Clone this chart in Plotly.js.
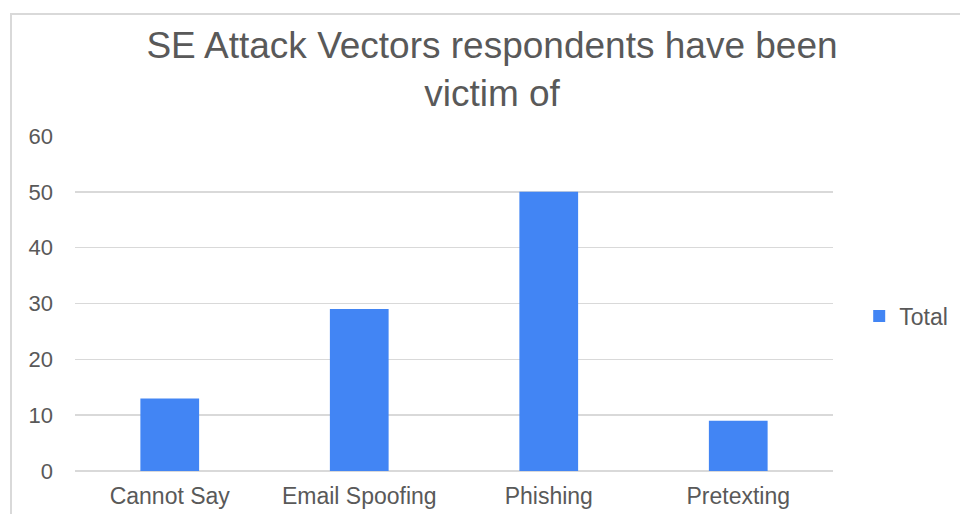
<!DOCTYPE html>
<html>
<head>
<meta charset="utf-8">
<script src="https://cdn.plot.ly/plotly-3.0.1.min.js"></script>
<style>
  html, body { margin: 0; padding: 0; background: #ffffff; overflow: hidden; }
  #chart { width: 960px; height: 514px; position: absolute; left: 0; top: 0; }
  #frame { position: absolute; left: 10px; top: 13px; width: 1000px; height: 600px;
           border: 2px solid #d9d9d9; pointer-events: none; box-sizing: border-box; }
</style>
</head>
<body>
<div id="chart"></div>
<div id="frame"></div>
<script>
// Attack vectors and how many respondents reported each one
const categories = ["Cannot Say", "Email Spoofing", "Phishing", "Pretexting"];
const totals = [13, 29, 50, 9];
const yTicks = [0, 10, 20, 30, 40, 50, 60];

const textGray = "#595959";
const gridGray = "#d9d9d9";

const trace = {
  type: "bar",
  name: "Total",
  x: categories,
  y: totals,
  marker: { color: "#4285f4" },
  hoverinfo: "x+y"
};

const layout = {
  width: 960,
  height: 514,
  paper_bgcolor: "#ffffff",
  plot_bgcolor: "#ffffff",
  font: { family: "Liberation Sans, Arial, sans-serif", color: textGray },
  margin: { l: 75, r: 127, t: 136, b: 43 },
  title: {
    text: "SE Attack Vectors respondents have been<br>victim of",
    font: { size: 37, color: textGray },
    x: 0.5125, xanchor: "center", xref: "container",
    y: 0.887, yanchor: "top", yref: "container"
  },
  bargap: 0.69,
  showlegend: true,
  legend: {
    xref: "container", yref: "container",
    x: 0.895, xanchor: "left",
    y: 1 - 316 / 514, yanchor: "middle",
    font: { size: 23, color: textGray },
    itemwidth: 30
  },
  xaxis: {
    tickfont: { size: 23, color: textGray },
    showgrid: false,
    showline: false,
    ticks: "",
    ticklabelstandoff: 9
  },
  yaxis: {
    range: [0, 60],
    tickvals: yTicks,
    tickfont: { size: 22, color: textGray },
    showgrid: true,
    gridcolor: gridGray,
    gridwidth: 1.5,
    zeroline: true,
    zerolinecolor: gridGray,
    zerolinewidth: 1.5,
    showline: false,
    ticks: "",
    ticklabelstandoff: 21
  }
};

Plotly.newPlot("chart", [trace], layout, { displayModeBar: false, staticPlot: true });
</script>
</body>
</html>
